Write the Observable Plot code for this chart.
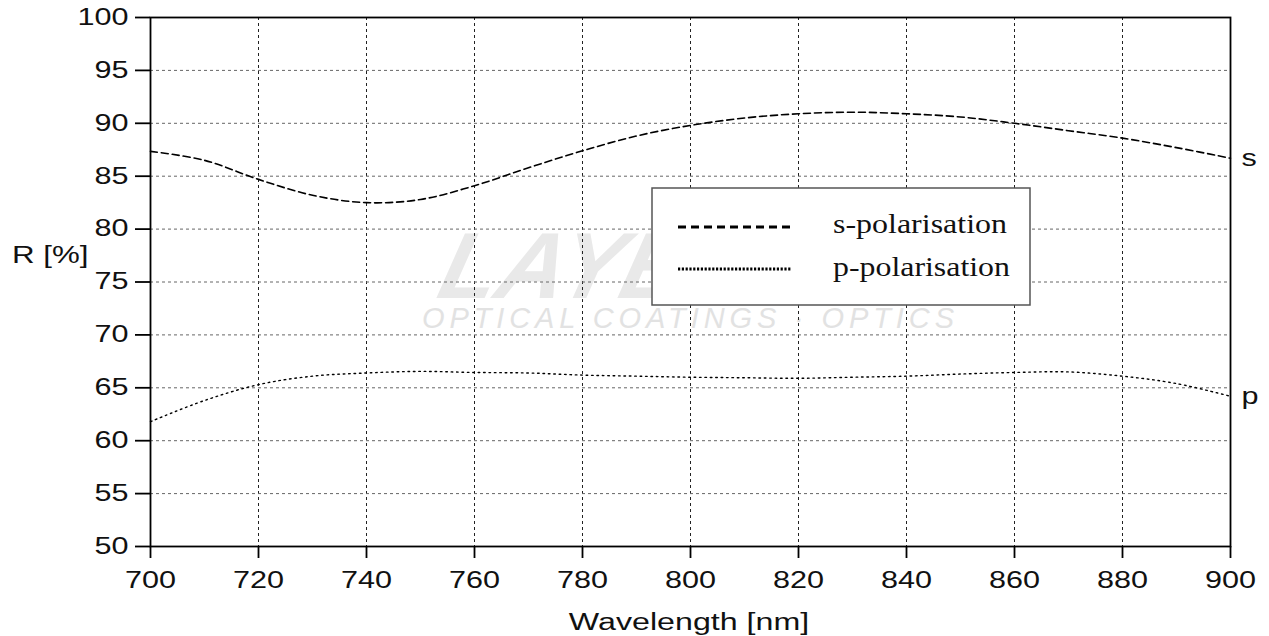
<!DOCTYPE html>
<html>
<head>
<meta charset="utf-8">
<script src="https://cdn.jsdelivr.net/npm/d3@7"></script>
<script src="https://cdn.jsdelivr.net/npm/@observablehq/plot@0.6"></script>
<style>
  html, body { margin: 0; padding: 0; background: white; }
  #wrap { position: relative; width: 1269px; height: 636px; overflow: hidden; font-family: "Liberation Sans", Arial, sans-serif; }
  #wrap > svg, #wrap > div { position: absolute; left: 0; top: 0; }
</style>
</head>
<body>
<div id="wrap">
  <svg id="bg" width="1269" height="636" style="z-index:0">
    <text x="437" y="298" font-family="Liberation Sans, Arial" font-weight="bold" font-style="italic" font-size="94" fill="#e9e9e9" transform="skewX(-14) translate(72,0)">LAYERTEC</text>
    <text x="422" y="328" font-family="Liberation Sans, Arial" font-style="italic" font-size="29" fill="#e2e2e2" textLength="532" lengthAdjust="spacing">OPTICAL COATINGS · OPTICS</text>
  </svg>
  <div id="chart" style="z-index:1"></div>
  <svg id="overlay" width="1269" height="636" style="z-index:2; pointer-events:none">
    <rect x="652" y="188" width="378" height="117" fill="white" stroke="#555" stroke-width="1.5"></rect>
    <line x1="678" x2="791" y1="227" y2="227" stroke="black" stroke-width="3" stroke-dasharray="8,5"></line>
    <line x1="678" x2="791" y1="269" y2="269" stroke="black" stroke-width="3" stroke-dasharray="2.2,1.6"></line>
    <text x="833" y="233" font-family="Liberation Serif, Times New Roman, serif" font-size="28" fill="#111" textLength="174" lengthAdjust="spacingAndGlyphs">s-polarisation</text>
    <text x="833" y="276" font-family="Liberation Serif, Times New Roman, serif" font-size="28" fill="#111" textLength="177" lengthAdjust="spacingAndGlyphs">p-polarisation</text>
    <text transform="translate(12,263) scale(1.36,1)" font-family="Liberation Sans, Arial" font-size="23" fill="#111">R [%]</text>
    <text transform="translate(689,630) scale(1.4,1)" text-anchor="middle" font-family="Liberation Sans, Arial" font-size="23" fill="#111">Wavelength [nm]</text>
  </svg>
</div>
<script>
const wavelengths = [700,710,720,730,740,750,760,770,780,790,800,810,820,830,840,850,860,870,880,890,900];
const sPol = [87.35,86.5,84.7,83.2,82.5,82.8,84.1,85.8,87.4,88.8,89.8,90.5,90.9,91.05,90.9,90.6,90.0,89.3,88.6,87.7,86.7];
const pPol = [61.8,63.8,65.3,66.1,66.4,66.55,66.45,66.4,66.2,66.1,66.0,65.95,65.9,66.0,66.1,66.3,66.45,66.5,66.1,65.4,64.2];
const xTicks = [700,720,740,760,780,800,820,840,860,880,900];
const yTicks = [50,55,60,65,70,75,80,85,90,95,100];
const seriesLabels = ["s","p"];

const sData = wavelengths.map((w,i) => ({w, r: sPol[i]}));
const pData = wavelengths.map((w,i) => ({w, r: pPol[i]}));
const ends = [
  {w: wavelengths[wavelengths.length-1], r: sPol[sPol.length-1], label: seriesLabels[0]},
  {w: wavelengths[wavelengths.length-1], r: pPol[pPol.length-1], label: seriesLabels[1]}
];

const chart = Plot.plot({
  width: 1269,
  height: 636,
  marginLeft: 150,
  marginRight: 39,
  marginTop: 17,
  marginBottom: 90,
  style: {fontFamily: "Liberation Sans, Arial, sans-serif", fontSize: "23px", background: "transparent", color: "#111", overflow: "visible"},
  x: {domain: [700, 900]},
  y: {domain: [50, 100]},
  marks: [
    Plot.gridX(xTicks.slice(1, -1), {stroke: "#222", strokeOpacity: 1, strokeDasharray: "3,3", strokeWidth: 1}),
    Plot.gridY(yTicks.slice(1, -1), {stroke: "#666", strokeOpacity: 1, strokeDasharray: "3,3", strokeWidth: 1}),
    Plot.line(sData, {x: "w", y: "r", stroke: "black", strokeWidth: 1.6, strokeDasharray: "7,4", curve: "catmull-rom"}),
    Plot.line(pData, {x: "w", y: "r", stroke: "black", strokeWidth: 1.4, strokeDasharray: "1.6,3.8", curve: "catmull-rom"}),
    Plot.frame({stroke: "black", strokeWidth: 1.8}),
    Plot.axisX(xTicks, {tickSize: 12, tickPadding: 13, label: null, strokeWidth: 1.8, fontSize: 23, stroke: "black"}),
    Plot.axisY(yTicks, {tickSize: 15, tickPadding: 7, label: null, strokeWidth: 1.8, fontSize: 23, stroke: "black"}),
    Plot.text(ends, {x: "w", y: "r", text: "label", dx: 11, textAnchor: "start", fontSize: 23, fill: "#111"})
  ]
});
document.getElementById("chart").appendChild(chart);

// Stretch text horizontally to match the reference's wide sans glyphs
const SX = 1.33;
const isNum = v => v != null && /^-?[\d.]+$/.test(v.trim());
d3.select(chart).selectAll("text").each(function() {
  const x = this.getAttribute("x");
  const y = this.getAttribute("y");
  const t = this.getAttribute("transform") || "";
  if (isNum(x)) {
    const xv = +x;
    const yv = isNum(y) ? +y : 0;
    this.setAttribute("transform", `${t} translate(${xv},${yv}) scale(${SX},1) translate(${-xv},${-yv})`);
  } else {
    this.setAttribute("transform", `${t} scale(${SX},1)`);
  }
});
</script>
</body>
</html>
